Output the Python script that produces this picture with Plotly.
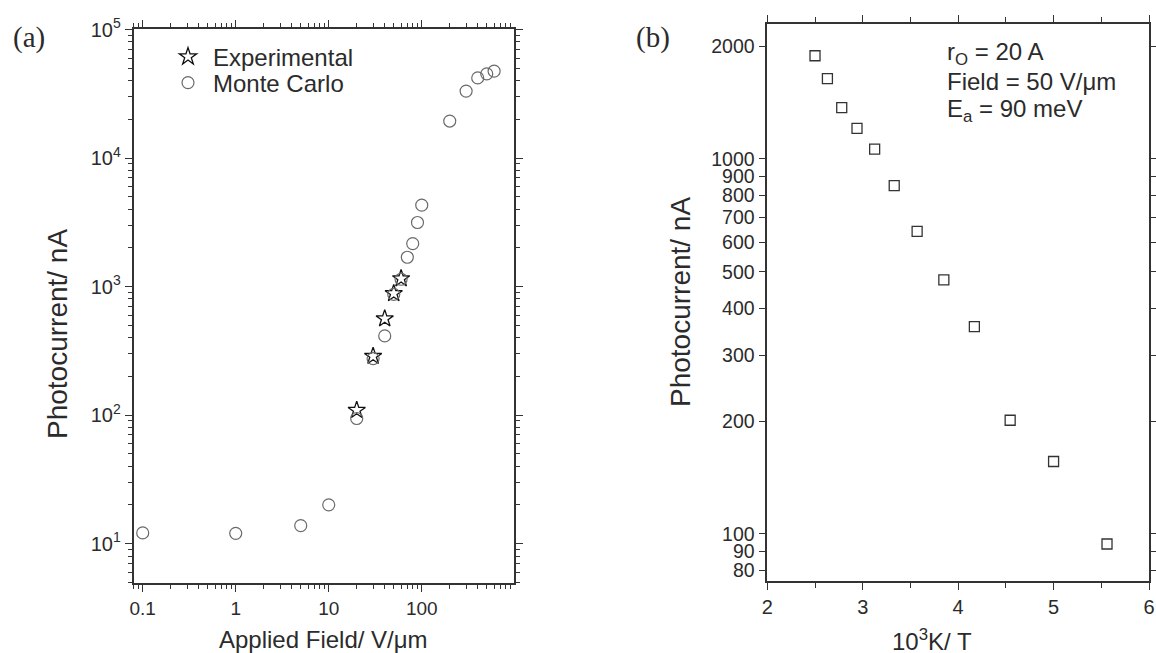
import plotly.graph_objects as go
import numpy as np

# ---- Panel (a) data ----
mc_field = [0.1, 1, 5, 10, 20, 30, 40, 50, 60, 70, 80, 90, 100, 200, 300, 400, 500, 600]
mc_current = [12.1, 12.0, 13.8, 20.0, 94, 275, 413, 870, 1140, 1690, 2160, 3150, 4300, 19400, 33200, 42000, 45200, 47400]
exp_field = [20, 30, 40, 50, 60]
exp_current = [109, 287, 562, 883, 1153]

# ---- Panel (b) data ----
inv_temp = [2.5, 2.63, 2.78, 2.94, 3.125, 3.33, 3.57, 3.85, 4.17, 4.545, 5.0, 5.56]
photo_b = [1885, 1637, 1370, 1207, 1062, 849, 641, 476, 357, 201, 156, 94]

# tick labels
a_xticks = [0.1, 1, 10, 100]
a_xticktext = ["0.1", "1", "10", "100"]
a_yticks = [10, 100, 1000, 10000, 100000]
a_yticktext = ["10<sup>1</sup>", "10<sup>2</sup>", "10<sup>3</sup>", "10<sup>4</sup>", "10<sup>5</sup>"]
b_yticks = [80, 90, 100, 200, 300, 400, 500, 600, 700, 800, 900, 1000, 2000]

W, H = 1156, 653
def px_x(x): return x / W
def px_y(y): return 1 - y / H

TXT = "#2b2b2b"
AX = "#333333"
FONT = "Liberation Sans, Arial, sans-serif"

fig = go.Figure()
fig.add_trace(go.Scatter(x=exp_field, y=exp_current, mode="markers", name="Experimental",
                         marker=dict(symbol="star-open", size=13, color="#111111", line=dict(width=1.3)),
                         xaxis="x", yaxis="y", legend="legend"))
fig.add_trace(go.Scatter(x=mc_field, y=mc_current, mode="markers", name="Monte Carlo",
                         marker=dict(symbol="circle-open", size=12, color="#6a6a6a", line=dict(width=1.2)),
                         xaxis="x", yaxis="y", legend="legend2"))
fig.add_trace(go.Scatter(x=inv_temp, y=photo_b, mode="markers", showlegend=False,
                         marker=dict(symbol="square-open", size=10, color="#333333", line=dict(width=1.3)),
                         xaxis="x2", yaxis="y2"))

minor_a_x = [m * 10.0 ** d for d in range(-2, 3) for m in range(2, 10) if 0.08 <= m * 10.0 ** d <= 980]
minor_a_y = [m * 10.0 ** d for d in range(0, 5) for m in range(2, 10) if 4.9 <= m * 10.0 ** d <= 100000]

axis_common = dict(showline=True, linecolor=AX, linewidth=1.6, mirror="ticks", ticks="outside",
                   tickcolor=AX, tickwidth=1.4, showgrid=False, zeroline=False, automargin=False,
                   tickfont=dict(family=FONT, size=19, color=TXT))

legend_common = dict(xanchor="left", yanchor="middle",
                     font=dict(family=FONT, size=24, color=TXT), bgcolor="rgba(0,0,0,0)",
                     itemwidth=40, tracegroupgap=0)

fig.update_layout(
    template="none",
    width=W, height=H,
    margin=dict(l=0, r=0, t=0, b=0, autoexpand=False),
    paper_bgcolor="white", plot_bgcolor="white",
    showlegend=True,
    legend=dict(legend_common, x=px_x(163), y=px_y(57)),
    legend2=dict(legend_common, x=px_x(163), y=px_y(83)),
    xaxis=dict(axis_common, type="log", domain=[px_x(133.5), px_x(514)],
               range=[-1.099, 2.992], tickvals=a_xticks, ticktext=a_xticktext, ticklen=7,
               minor=dict(tickvals=minor_a_x, ticks="outside", ticklen=4, tickcolor=AX, tickwidth=1.2),
               anchor="y"),
    yaxis=dict(axis_common, type="log", domain=[px_y(583), px_y(28.5)],
               range=[0.693, 5.008], tickvals=a_yticks, ticktext=a_yticktext, ticklen=7,
               tickfont=dict(family=FONT, size=20, color=TXT),
               minor=dict(tickvals=minor_a_y, ticks="outside", ticklen=4, tickcolor=AX, tickwidth=1.2),
               anchor="x"),
    xaxis2=dict(axis_common, domain=[px_x(767.3), px_x(1149)], range=[2, 6],
                tickvals=[2, 3, 4, 5, 6], ticklen=7,
                minor=dict(tickvals=[2.5, 3.5, 4.5, 5.5], ticks="outside", ticklen=5, tickcolor=AX, tickwidth=1.2),
                tickfont=dict(family=FONT, size=20, color=TXT), anchor="y2"),
    yaxis2=dict(axis_common, type="log", domain=[px_y(581), px_y(24)],
                range=[np.log10(74.9), 3.36], tickvals=b_yticks,
                ticktext=[str(v) for v in b_yticks], ticklen=7,
                tickfont=dict(family=FONT, size=19.5, color=TXT), anchor="x2"),
)

ann = [
    dict(text="(a)", x=px_x(29), y=px_y(38), font=dict(family="Liberation Serif, Times New Roman, serif", size=29, color=TXT)),
    dict(text="(b)", x=px_x(653), y=px_y(38), font=dict(family="Liberation Serif, Times New Roman, serif", size=29, color=TXT)),
    dict(text="Applied Field/ V/\u03bcm", x=px_x(323.5), y=px_y(639), font=dict(family=FONT, size=24, color=TXT)),
    dict(text="10<sup>3</sup>K/ T", x=px_x(932), y=px_y(640), font=dict(family=FONT, size=24, color=TXT)),
    dict(text="Photocurrent/ nA", x=px_x(57), y=px_y(334), textangle=-90, font=dict(family=FONT, size=28, color=TXT)),
    dict(text="Photocurrent/ nA", x=px_x(680), y=px_y(302), textangle=-90, font=dict(family=FONT, size=28, color=TXT)),
]
for a in ann:
    a.update(xref="paper", yref="paper", showarrow=False, xanchor="center", yanchor="middle")
    fig.add_annotation(**a)

info_lines = ["r<sub>O</sub> = 20 A", "Field = 50 V/\u03bcm", "E<sub>a</sub> = 90 meV"]
info_y = [54, 82, 111]
for t, yy in zip(info_lines, info_y):
    fig.add_annotation(text=t, xref="paper", yref="paper", x=px_x(945), y=px_y(yy),
                       xanchor="left", yanchor="middle", showarrow=False,
                       font=dict(family=FONT, size=24, color=TXT))

fig.write_html("out.html", config={"displayModeBar": False},
               post_script="document.body.style.margin='0';document.body.style.padding='0';"
                           "document.body.style.overflow='hidden';")
